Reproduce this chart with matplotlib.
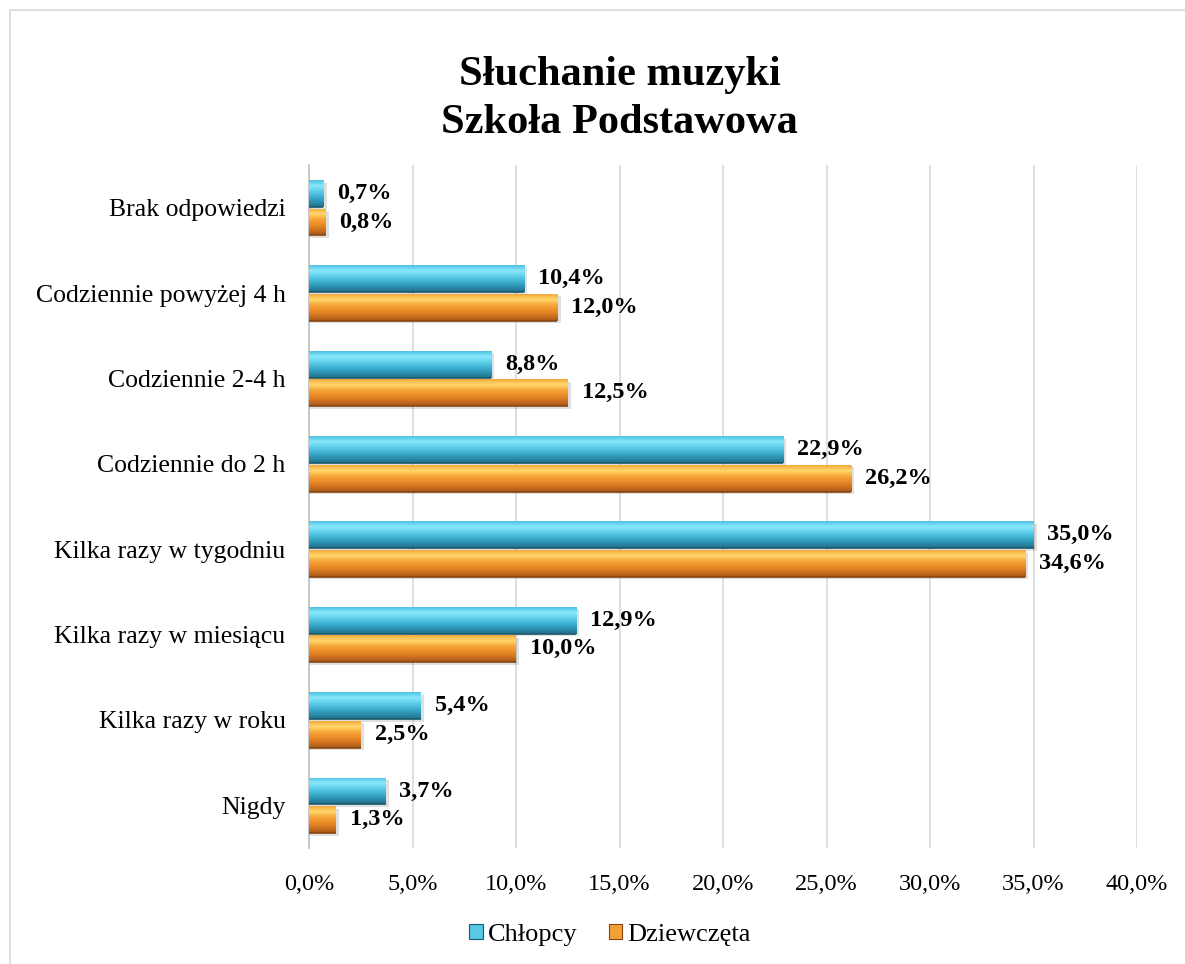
import matplotlib
matplotlib.use("Agg")
import matplotlib.pyplot as plt
import numpy as np
from matplotlib.patches import Rectangle
from matplotlib.colors import LinearSegmentedColormap

categories = ["Nigdy", "Kilka razy w roku", "Kilka razy w miesiącu", "Kilka razy w tygodniu",
              "Codziennie do 2 h", "Codziennie 2-4 h", "Codziennie powyżej 4 h", "Brak odpowiedzi"]
chlopcy = [3.7, 5.4, 12.9, 35.0, 22.9, 8.8, 10.4, 0.7]
dziewczeta = [1.3, 2.5, 10.0, 34.6, 26.2, 12.5, 12.0, 0.8]
series_names = ["Chłopcy", "Dziewczęta"]
xticks = [0, 5, 10, 15, 20, 25, 30, 35, 40]

plt.rcParams['font.family'] = ['Liberation Serif', 'DejaVu Serif']

blue_cmap = LinearSegmentedColormap.from_list(
    "b", ["#226f88", "#2d93b3", "#3fb4d4", "#5fd0ea", "#8be8fa", "#4cc3e2"])
orange_cmap = LinearSegmentedColormap.from_list(
    "o", ["#a4561a", "#d2741f", "#ec8d2a", "#f7a83a", "#ffd86e", "#f6a83b"])

fig = plt.figure(figsize=(11.85, 9.64), dpi=100)
fig.patches.append(Rectangle((10 / 1185, -0.01), 1.1, 1 - 10 / 964 + 0.01, transform=fig.transFigure,
                             fill=False, edgecolor="#d9d9d9", linewidth=1.2))
ax = fig.add_axes([309 / 1185, 1 - 848 / 964, 828 / 1185, 683 / 964])

y = np.arange(len(categories))
h = 0.315
grad = np.linspace(0, 1, 64).reshape(-1, 1)


def draw_bars(vals, offset, cmap, edge):
    bars = ax.barh(y + offset, vals, height=h, color=cmap(0.6), edgecolor="none", zorder=3)
    for b in bars:
        x0, y0 = b.get_x(), b.get_y()
        w, hh = b.get_width(), b.get_height()
        # soft shadow
        ax.add_patch(Rectangle((x0, y0 - 0.03), w + 0.15, hh, color="#000000", alpha=0.12,
                               zorder=2, linewidth=0))
        im = ax.imshow(grad, cmap=cmap, extent=(x0, x0 + w, y0, y0 + hh),
                       aspect="auto", origin="lower", zorder=4, interpolation="bicubic")
        im.set_clip_path(b)
        ax.plot([x0, x0 + w], [y0, y0], color=edge, lw=1.2, zorder=5, solid_capstyle="butt")
    return bars


draw_bars(chlopcy, h / 2 + 0.01, blue_cmap, "#1b5a6e")
draw_bars(dziewczeta, -h / 2 - 0.01, orange_cmap, "#8a4512")

for i in range(len(categories)):
    ax.annotate(f"{chlopcy[i]:.1f}%".replace(".", ","), (chlopcy[i], y[i] + h / 2 + 0.01),
                xytext=(10, 0), textcoords="offset points", va="center", ha="left",
                fontsize=17.5, fontweight="bold", zorder=6)
    ax.annotate(f"{dziewczeta[i]:.1f}%".replace(".", ","), (dziewczeta[i], y[i] - h / 2 - 0.01),
                xytext=(10, 0), textcoords="offset points", va="center", ha="left",
                fontsize=17.5, fontweight="bold", zorder=6)

ax.set_xlim(0, 40)
ax.set_ylim(-0.5, len(categories) - 0.5)
ax.set_xticks(xticks)
ax.set_xticklabels([f"{t:.1f}%".replace(".", ",") for t in xticks], fontsize=17.5)
ax.set_yticks(y)
ax.set_yticklabels(categories, fontsize=18.5)
ax.tick_params(axis="x", length=0, pad=19)
ax.tick_params(axis="y", length=0, pad=17)
ax.grid(axis="x", color="#d9d9d9", linewidth=1.2, zorder=0)
ax.set_axisbelow(True)
for s in ["top", "right", "bottom"]:
    ax.spines[s].set_visible(False)
ax.spines["left"].set_color("#bfbfbf")
ax.spines["left"].set_linewidth(1.2)

fig.text(0.523, 0.922, "Słuchanie muzyki", ha="center", va="center", fontsize=30.5, fontweight="bold")
fig.text(0.523, 0.872, "Szkoła Podstawowa", ha="center", va="center", fontsize=30.5, fontweight="bold")

handles = [Rectangle((0, 0), 1, 1, facecolor=blue_cmap(0.55), edgecolor="#1b5a6e", lw=0.8),
           Rectangle((0, 0), 1, 1, facecolor=orange_cmap(0.55), edgecolor="#8a4512", lw=0.8)]
fig.legend(handles, series_names, loc="center", bbox_to_anchor=(0.515, 0.03), ncol=2,
           frameon=False, fontsize=19, handlelength=0.5, handleheight=0.5,
           handletextpad=0.2, columnspacing=1.2)

fig.savefig("out.png", dpi=100)
